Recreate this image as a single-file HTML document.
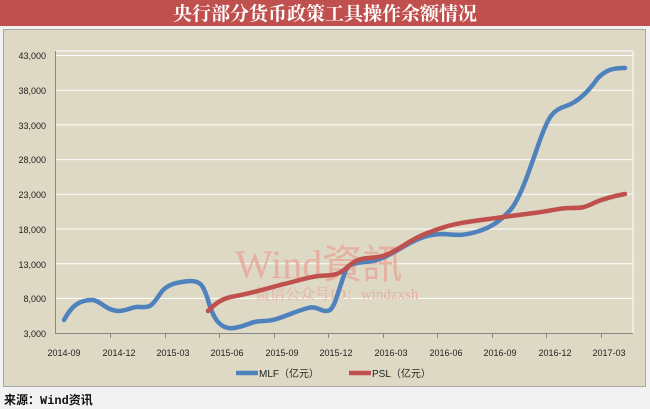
<!DOCTYPE html>
<html><head><meta charset="utf-8"><style>
html,body{margin:0;padding:0;width:650px;height:409px;overflow:hidden;background:#f2f2f2;font-family:"Liberation Sans","Noto Sans CJK SC",sans-serif}
</style></head><body>
<svg width="650" height="409" xmlns="http://www.w3.org/2000/svg">
<rect x="0" y="0" width="650" height="409" fill="#f2f2f2"/>
<rect x="0" y="0" width="650" height="26" fill="#c0504d"/>
<text x="325" y="20" text-anchor="middle" font-family="'Noto Serif CJK SC',serif" font-size="19" font-weight="bold" fill="#fff">央行部分货币政策工具操作余额情况</text>
<rect x="3.5" y="29.5" width="642" height="357" fill="#ddd9c4" stroke="#a6a6a6"/>
<g stroke="#fff" stroke-width="1">
<line x1="55" x2="633" y1="51" y2="51"/>
<line x1="55" x2="633" y1="55.5" y2="55.5"/>
<line x1="55" x2="633" y1="90.2" y2="90.2"/>
<line x1="55" x2="633" y1="124.9" y2="124.9"/>
<line x1="55" x2="633" y1="159.6" y2="159.6"/>
<line x1="55" x2="633" y1="194.3" y2="194.3"/>
<line x1="55" x2="633" y1="229" y2="229"/>
<line x1="55" x2="633" y1="263.7" y2="263.7"/>
<line x1="55" x2="633" y1="298.4" y2="298.4"/>
<line x1="633" x2="633" y1="51" y2="334"/>
</g>
<g stroke="#888" stroke-width="1">
<line x1="55.5" x2="55.5" y1="51" y2="334"/>
<line x1="55" x2="633" y1="333.5" y2="333.5"/>
</g>
<g font-size="9" fill="#222" text-anchor="end">
<text x="46" y="59">43,000</text><text x="46" y="94">38,000</text><text x="46" y="129">33,000</text><text x="46" y="163">28,000</text><text x="46" y="198">23,000</text><text x="46" y="233">18,000</text><text x="46" y="268">13,000</text><text x="46" y="302">8,000</text><text x="46" y="337">3,000</text>
</g>
<g font-size="9" fill="#222" text-anchor="middle">
<text x="64" y="356">2014-09</text><text x="119" y="356">2014-12</text><text x="173" y="356">2015-03</text><text x="227" y="356">2015-06</text><text x="282" y="356">2015-09</text><text x="336" y="356">2015-12</text><text x="391" y="356">2016-03</text><text x="446" y="356">2016-06</text><text x="500" y="356">2016-09</text><text x="555" y="356">2016-12</text><text x="609" y="356">2017-03</text>
</g>
<g stroke="#888"><line x1="110.5" x2="110.5" y1="334" y2="338"/><line x1="165.5" x2="165.5" y1="334" y2="338"/><line x1="219.5" x2="219.5" y1="334" y2="338"/><line x1="274.5" x2="274.5" y1="334" y2="338"/><line x1="328.5" x2="328.5" y1="334" y2="338"/><line x1="383.5" x2="383.5" y1="334" y2="338"/><line x1="437.5" x2="437.5" y1="334" y2="338"/><line x1="492.5" x2="492.5" y1="334" y2="338"/><line x1="546.5" x2="546.5" y1="334" y2="338"/><line x1="601.5" x2="601.5" y1="334" y2="338"/></g>
<text x="235" y="278" font-family="'Liberation Serif',serif" font-size="40" fill="#e8a59a" opacity="0.8">Wind資訊</text>
<text x="255" y="299" font-family="'Liberation Serif','Noto Serif CJK SC',serif" font-size="15" fill="#e8a59a" opacity="0.8">微信公众号ID：windzxsh</text>
<path d="M64,320 C72,305 80,300 92,300 C100,300 105,310 118,311 C128,311 132,306 140,307 C150,308 152,306 160,294 C166,284 178,282 190,281 C200,281 203,284 208,300 C213,318 220,330 234,328 C248,326 250,321 264,321 C278,321 292,312 308,308 C318,305 322,314 330,310 C336,305 338,290 346,270 C350,262 360,263 372,261 C384,259 392,253 410,243 C424,236 432,234 444,234 C456,235 462,236 476,232 C490,228 500,222 512,208 C522,194 530,168 540,140 C548,118 552,110 566,106 C578,102 588,92 598,78 C606,70 612,68 625,68" fill="none" stroke="#4f81bd" stroke-width="4.5" stroke-linecap="round"/>
<path d="M208,311 C216,303 222,298 236,296 C252,293 262,290 280,285 C298,281 304,278 318,276 C330,275 336,276 344,270 C352,263 356,259 368,258 C380,257 384,257 396,250 C408,243 416,237 430,232 C444,227 452,224 474,221 C496,218 510,216 534,213 C552,211 558,208 570,208 C582,208 584,208 596,202 C606,198 614,196 625,194" fill="none" stroke="#c0504d" stroke-width="4.5" stroke-linecap="round"/>
<line x1="236" x2="258" y1="373" y2="373" stroke="#4f81bd" stroke-width="4.5"/>
<text x="259" y="377" font-size="10" fill="#222">MLF（亿元）</text>
<line x1="349" x2="371" y1="373" y2="373" stroke="#c0504d" stroke-width="4.5"/>
<text x="372" y="377" font-size="10" fill="#222">PSL（亿元）</text>
<text x="4" y="404" font-family="'Liberation Mono','Noto Sans CJK SC',monospace" font-size="12" font-weight="bold" fill="#111">来源：Wind资讯</text>
</svg>
</body></html>
